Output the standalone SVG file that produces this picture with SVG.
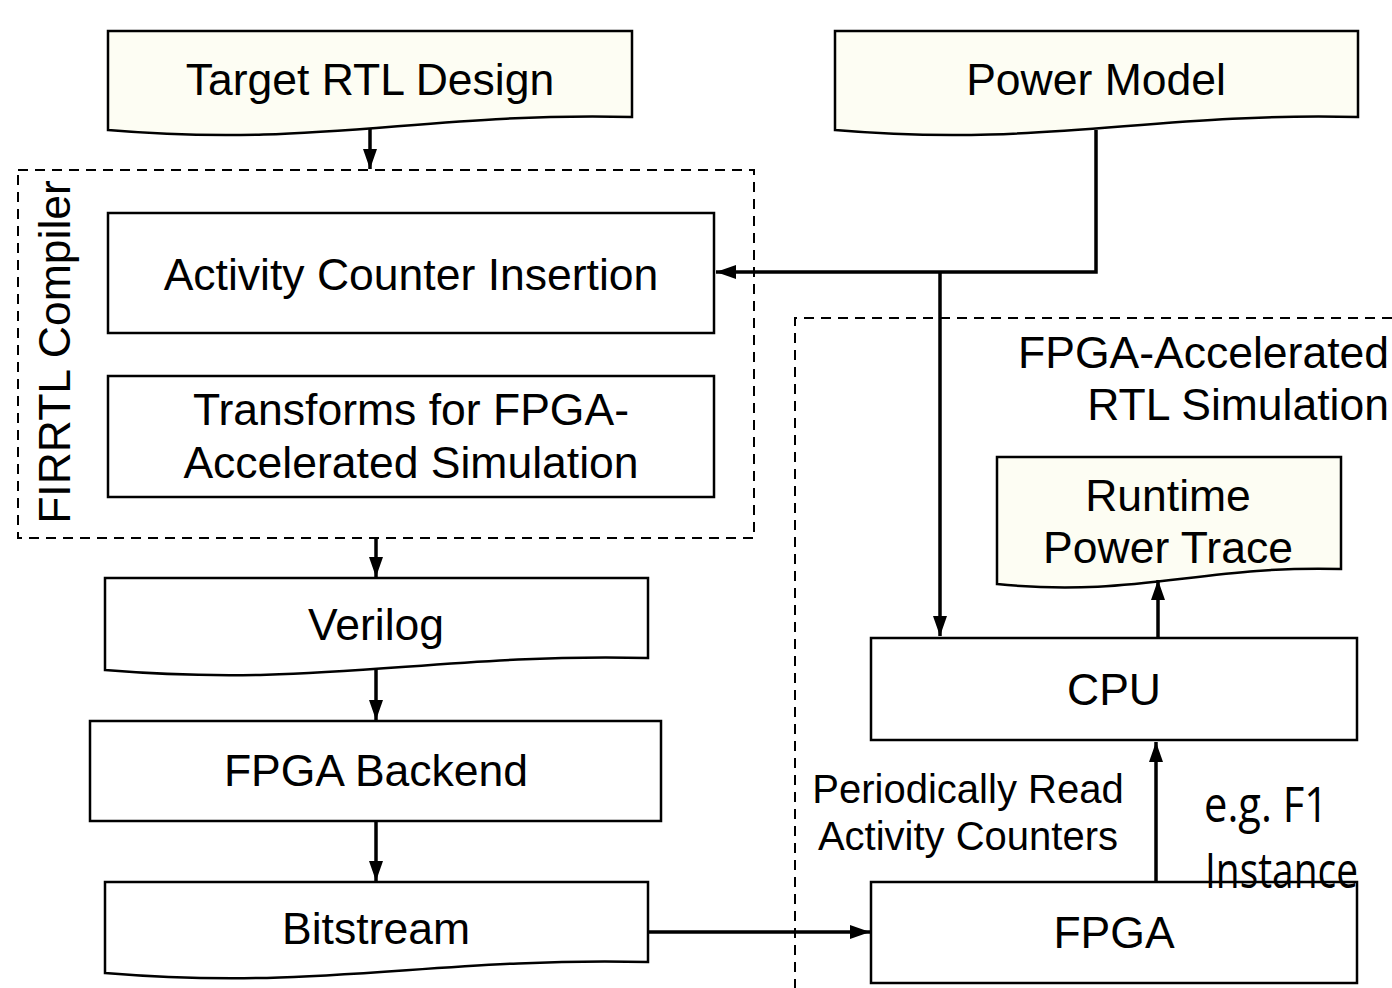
<svg xmlns="http://www.w3.org/2000/svg" width="1392" height="988" viewBox="0 0 1392 988">
<style>
.box{fill:#ffffff;stroke:#000;stroke-width:2.5}
.doc{fill:#fdfdf3;stroke:#000;stroke-width:2.5}
.docw{fill:#ffffff;stroke:#000;stroke-width:2.5}
.dash{fill:none;stroke:#000;stroke-width:2;stroke-dasharray:10,7}
.t{font-family:"Liberation Sans",Arial,sans-serif;font-size:44.5px;fill:#000;text-anchor:middle}
.s{font-family:"Liberation Sans",Arial,sans-serif;font-size:40px;fill:#000;text-anchor:middle}
.c{font-family:"Open Sans","DejaVu Sans",sans-serif;font-size:50px;fill:#000}
.ln{fill:none;stroke:#000;stroke-width:3.5}
</style>
<defs>
<marker id="ah" viewBox="0 0 20 14" refX="20" refY="7" markerWidth="20" markerHeight="14" orient="auto" markerUnits="userSpaceOnUse"><path d="M0,0 L20,7 L0,14 Z" fill="#000"/></marker>
</defs>
<rect width="1392" height="988" fill="#fff"/>
<g id="firrtl-group">
<rect class="dash" x="18" y="170" width="736" height="368"/>
<text class="t" transform="translate(70,352) rotate(-90)">FIRRTL Compiler</text>
</g>
<g id="fpga-sim-group">
<path class="dash" d="M1392,318 H795 V988"/>
<text class="t" x="1389" y="368" style="text-anchor:end">FPGA-Accelerated</text>
<text class="t" x="1389" y="420" style="text-anchor:end">RTL Simulation</text>
</g>
<g id="target-rtl">
<path class="doc" d="M108,31 H632 V117 C422,112 318,148 108,130 Z"/>
<text class="t" x="370" y="95">Target RTL Design</text>
</g>
<g id="power-model">
<path class="doc" d="M835,31 H1358 V117 C1149,112 1044,148 835,130 Z"/>
<text class="t" x="1096" y="95">Power Model</text>
</g>
<g id="activity">
<rect class="box" x="108" y="213" width="606" height="120"/>
<text class="t" x="411" y="290">Activity Counter Insertion</text>
</g>
<g id="transforms">
<rect class="box" x="108" y="376" width="606" height="121"/>
<text class="t" x="411" y="425">Transforms for FPGA-</text>
<text class="t" x="411" y="478">Accelerated Simulation</text>
</g>
<g id="verilog">
<path class="docw" d="M105,578 H648 V658 C431,653 322,688 105,670 Z"/>
<text class="t" x="376" y="640">Verilog</text>
</g>
<g id="fpga-backend">
<rect class="box" x="90" y="721" width="571" height="100"/>
<text class="t" x="376" y="786">FPGA Backend</text>
</g>
<g id="bitstream">
<path class="docw" d="M105,882 H648 V962 C431,957 322,991 105,973 Z"/>
<text class="t" x="376" y="944">Bitstream</text>
</g>
<g id="runtime-trace">
<path class="doc" d="M997,457 H1341 V569 C1203,565 1135,598 997,584 Z"/>
<text class="t" x="1168" y="511">Runtime</text>
<text class="t" x="1168" y="563">Power Trace</text>
</g>
<g id="cpu">
<rect class="box" x="871" y="638" width="486" height="102"/>
<text class="t" x="1114" y="705">CPU</text>
</g>
<g id="fpga">
<rect class="box" x="871" y="882" width="486" height="101"/>
<text class="t" x="1114" y="948">FPGA</text>
</g>
<g id="connectors">
<line class="ln" x1="370" y1="128" x2="370" y2="169" marker-end="url(#ah)"/>
<path class="ln" d="M1096,130 V272 H716" marker-end="url(#ah)"/>
<line class="ln" x1="940" y1="272" x2="940" y2="636" marker-end="url(#ah)"/>
<line class="ln" x1="376" y1="538" x2="376" y2="577" marker-end="url(#ah)"/>
<line class="ln" x1="376" y1="668" x2="376" y2="720" marker-end="url(#ah)"/>
<line class="ln" x1="376" y1="821" x2="376" y2="881" marker-end="url(#ah)"/>
<line class="ln" x1="648" y1="932" x2="870" y2="932" marker-end="url(#ah)"/>
<line class="ln" x1="1158" y1="638" x2="1158" y2="580" marker-end="url(#ah)"/>
<line class="ln" x1="1156" y1="882" x2="1156" y2="742" marker-end="url(#ah)"/>
</g>
<g id="labels">
<text class="s" x="968" y="803">Periodically Read</text>
<text class="s" x="968" y="850">Activity Counters</text>
<text class="c" x="1204" y="822" textLength="124" lengthAdjust="spacingAndGlyphs">e.g. F1</text>
<text class="c" x="1205" y="888" textLength="153" lengthAdjust="spacingAndGlyphs">Instance</text>
</g>
</svg>
